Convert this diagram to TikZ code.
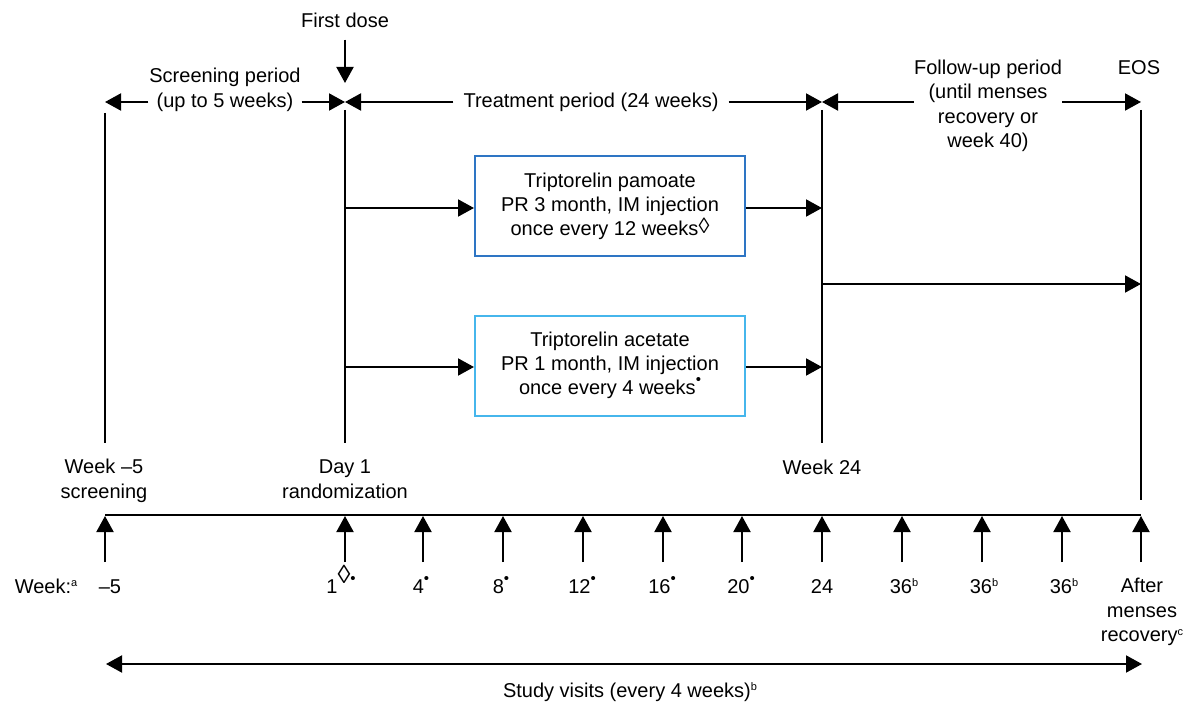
\documentclass[tikz,border=0pt]{standalone}
\usepackage{fontspec}
\setmainfont{Liberation Sans}
\usetikzlibrary{arrows.meta}
\definecolor{boxA}{RGB}{46,117,196}
\definecolor{boxB}{RGB}{70,182,236}
\newcommand{\supl}[1]{\raisebox{6.5pt}{\fontsize{11}{11}\selectfont #1}}
\newcommand{\bdot}{\raisebox{10pt}{\fontsize{15}{15}\selectfont •}}
\newcommand{\loz}{\raisebox{2pt}{\fontsize{22}{22}\selectfont ◊}}
\newcommand{\lozbig}{\raisebox{10pt}{\fontsize{26}{26}\selectfont ◊}}
\tikzset{
  lbl/.style={font=\fontsize{20}{24.5}\selectfont, inner sep=0pt, align=center},
  arr/.style={-{Triangle[length=16pt,width=17pt]}, line width=2pt},
  arrtwo/.style={{Triangle[length=16pt,width=17pt]}-{Triangle[length=16pt,width=17pt]}, line width=2pt},
  ln/.style={line width=2pt},
  armbox/.style={draw, line width=2pt, minimum width=270pt, minimum height=100pt, inner sep=0pt, align=center, font=\fontsize{20}{24}\selectfont},
}
\begin{document}
\begin{tikzpicture}[x=1pt,y=-1pt]
\fill[white] (0,0) rectangle (1195,706);
\useasboundingbox (0,0) rectangle (1195,706);

% top labels
\node[lbl] (fd) at (345,20) {First dose};
\node[lbl] (scr1) at (225,77) {Screening period};
\node[lbl, inner xsep=8pt] (scr2) at (225,102) {(up to 5 weeks)};
\node[lbl, inner xsep=10pt] (trt) at (591,102) {Treatment period (24 weeks)};
\node[lbl] (fu) at (988,106) {Follow-up period\\(until menses\\recovery or\\week 40)};
\node[lbl] (eos) at (1139,68) {EOS};

% period arrow points
\coordinate (pS) at (105,102);
\coordinate (pD) at (345,102);
\coordinate (pW) at (822,102);
\coordinate (pE) at (1141,102);
\coordinate (fdtip) at (345,83);

\draw[arr, shorten <=12pt] (fd.south) -- (fdtip);
\draw[arr] (scr2.west) -- (pS);
\draw[arr] (scr2.east) -- (pD);
\draw[arr] (trt.west) -- (pD);
\draw[arr] (trt.east) -- (pW);
\draw[arr] (fu.west |- pW) -- (pW);
\draw[arr] (fu.east |- pE) -- (pE);

% vertical lines
\coordinate (v1t) at (105,113); \coordinate (v1b) at (105,443);
\coordinate (v2t) at (345,110); \coordinate (v2b) at (345,443);
\coordinate (v3t) at (822,110); \coordinate (v3b) at (822,443);
\coordinate (v4t) at (1141,110); \coordinate (v4b) at (1141,500);
\draw[ln] (v1t) -- (v1b);
\draw[ln] (v2t) -- (v2b);
\draw[ln] (v3t) -- (v3b);
\draw[ln] (v4t) -- (v4b);

% arm boxes
\node[armbox, draw=boxA] (pam) at (610,206) {Triptorelin pamoate\\PR 3 month, IM injection\\once every 12 weeks\loz};
\node[armbox, draw=boxB] (ace) at (610,365.5) {Triptorelin acetate\\PR 1 month, IM injection\\once every 4 weeks\bdot};

\coordinate (pamL) at (345,208); \coordinate (pamR) at (822,208);
\coordinate (aceL) at (345,367); \coordinate (aceR) at (822,367);
\coordinate (fuL) at (822,284); \coordinate (fuR) at (1141,284);
\draw[arr] (pamL) -- (pamL -| pam.west);
\draw[arr] (pamR -| pam.east) -- (pamR);
\draw[arr] (aceL) -- (aceL -| ace.west);
\draw[arr] (aceR -| ace.east) -- (aceR);
\draw[arr] (fuL) -- (fuR);

% labels above timeline
\node[lbl] (wk5) at (104,481) {Week –5\\screening};
\node[lbl] (day1) at (345,479) {Day 1\\randomization};
\node[lbl] (wk24) at (822,467) {Week 24};

% timeline
\coordinate (tlA) at (105,515); \coordinate (tlB) at (1141,515);
\draw[ln] (tlA) -- (tlB);
\foreach \i/\x in {0/105,1/345,2/423,3/503,4/583,5/663,6/742,7/822,8/902,9/982,10/1062,11/1141}{
  \coordinate (tb\i) at (\x,562);
  \coordinate (tt\i) at (\x,516);
  \draw[arr] (tb\i) -- (tt\i);
}

% week labels
\node[lbl, anchor=base] (wklab) at (46,593) {Week:\supl{a}};
\node[lbl, anchor=base] (w0) at (110,593) {–5};
\node[lbl, anchor=base] (w1) at (341,593) {1\lozbig\bdot};
\node[lbl, anchor=base] (w2) at (421,593) {4\bdot};
\node[lbl, anchor=base] (w3) at (501,593) {8\bdot};
\node[lbl, anchor=base] (w4) at (582,593) {12\bdot};
\node[lbl, anchor=base] (w5) at (662,593) {16\bdot};
\node[lbl, anchor=base] (w6) at (741,593) {20\bdot};
\node[lbl, anchor=base] (w7) at (822,593) {24};
\node[lbl, anchor=base] (w8) at (904,593) {36\supl{b}};
\node[lbl, anchor=base] (w9) at (984,593) {36\supl{b}};
\node[lbl, anchor=base] (w10) at (1064,593) {36\supl{b}};
\node[lbl] (w11) at (1142,612) {After\\menses\\recovery\supl{c}};

% study visits
\coordinate (svA) at (106,664); \coordinate (svB) at (1142,664);
\draw[arrtwo] (svA) -- (svB);
\node[lbl] (sv) at (630,692) {Study visits (every 4 weeks)\supl{b}};
\end{tikzpicture}
\end{document}
